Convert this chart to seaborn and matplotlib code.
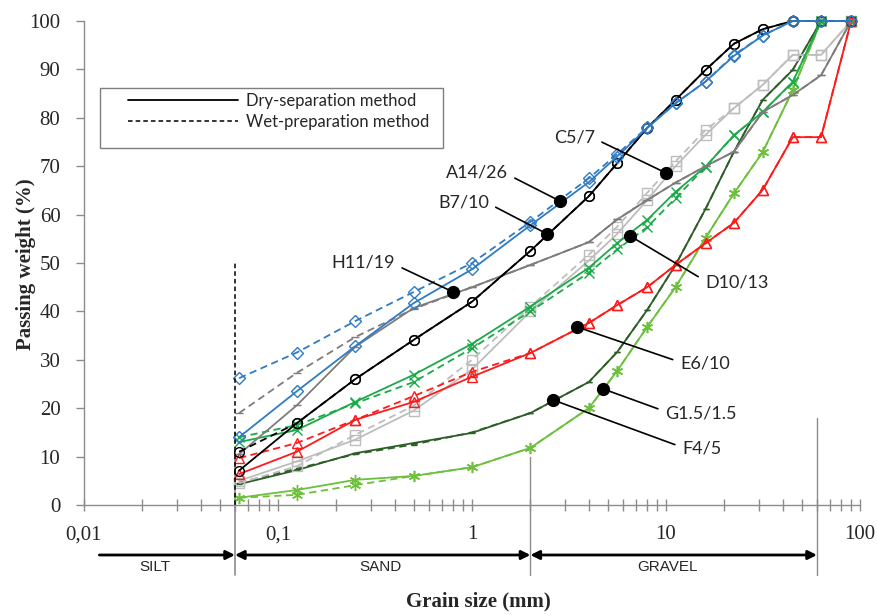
import matplotlib
matplotlib.use("Agg")
import matplotlib.pyplot as plt
from matplotlib.lines import Line2D
from matplotlib.patches import Rectangle
import seaborn as sns
import pandas as pd

# ---------------- data ----------------
sizes = [0.063, 0.125, 0.25, 0.5, 1, 2, 4, 5.6, 8, 11.2, 16, 22.4, 31.5, 45, 63, 90]

A_dry = [14.0, 23.5, 32.8, 41.7, 48.7, 57.8, 66.7, 72.0, 77.9, 83.0, 87.5, 92.8, 97.0, 100, 100, 100]
A_wet = [26.2, 31.5, 38.0, 44.0, 50.0, 58.5, 67.5, 72.5, 78.0, 83.0, 87.5, 93.0, 97.0, 100, 100, 100]
B_dry = [7.1, 16.9, 26.0, 34.1, 42.0, 52.5, 63.8, 70.6, 77.9, 83.7, 89.9, 95.3, 98.3, 100, 100, 100]
B_wet = [11.0, 16.9, 26.0, 34.1, 42.0, 52.5, 63.8, 70.6, 77.9, 83.7, 89.9, 95.3, 98.3, 100, 100, 100]
C_dry = [5.0, 9.0, 13.5, 19.5, 28.0, 40.0, 50.5, 56.0, 63.0, 70.0, 76.5, 82.0, 86.8, 93.0, 93.0, 100]
C_wet = [4.5, 8.0, 14.5, 20.5, 30.0, 41.0, 51.7, 57.5, 64.5, 71.0, 77.5, 82.0, 86.8, 93.0, 93.0, 100]
D_dry = [13.0, 15.5, 21.3, 26.9, 33.3, 41.0, 49.0, 54.1, 58.9, 64.7, 69.9, 76.4, 81.2, 87.4, 100, 100]
D_wet = [14.0, 16.5, 21.0, 25.4, 32.4, 40.0, 48.0, 52.8, 57.4, 63.4, 69.9, 76.4, 81.2, 87.4, 100, 100]
E_dry = [6.4, 11.0, 17.6, 21.3, 26.5, 31.4, 37.6, 41.3, 45.0, 49.6, 54.1, 58.3, 65.1, 76.0, 76.0, 100]
E_wet = [9.7, 12.8, 17.6, 22.5, 27.5, 31.4, 37.6, 41.3, 45.0, 49.6, 54.1, 58.3, 65.1, 76.0, 76.0, 100]
F_dry = [4.3, 7.2, 10.7, 12.8, 14.9, 19.0, 25.4, 31.6, 40.3, 49.6, 61.2, 73.0, 83.7, 89.9, 100, 100]
F_wet = [4.6, 7.5, 10.5, 12.5, 15.0, 19.0, 25.4, 31.6, 40.3, 49.6, 61.2, 73.0, 83.7, 89.9, 100, 100]
G_dry = [1.5, 3.1, 5.2, 6.0, 7.8, 11.8, 20.0, 27.7, 36.8, 45.0, 55.2, 64.4, 72.9, 85.7, 100, 100]
G_wet = [1.5, 2.1, 4.1, 6.0, 7.8, 11.8, 20.0, 27.7, 36.8, 45.0, 55.2, 64.4, 72.9, 85.7, 100, 100]
H_dry = [10.5, 20.6, 32.7, 40.7, 45.0, 49.6, 54.3, 59.0, 63.0, 66.6, 70.0, 73.0, 81.2, 84.7, 88.8, 100]
H_wet = [19.0, 27.3, 34.7, 40.5, 45.0, 49.6, 54.3, 59.0, 63.0, 66.6, 70.0, 73.0, 81.2, 84.7, 88.8, 100]

sample_names = ["A14/26", "B7/10", "C5/7", "D10/13", "E6/10", "F4/5", "G1.5/1.5", "H11/19"]
dry_values = [A_dry, B_dry, C_dry, D_dry, E_dry, F_dry, G_dry, H_dry]
wet_values = [A_wet, B_wet, C_wet, D_wet, E_wet, F_wet, G_wet, H_wet]

# label annotations: point on the curve (x, y) and text position (x, y)
ann_names = ["A14/26", "B7/10", "C5/7", "H11/19", "D10/13", "E6/10", "G1.5/1.5", "F4/5"]
ann_px = [2.84, 2.44, 10.0, 0.80, 6.52, 3.47, 4.73, 2.62]
ann_py = [62.8, 56.0, 68.6, 44.0, 55.6, 36.8, 24.0, 21.7]
ann_tx = [1.53, 1.22, 4.3, 0.401, 15.9, 11.8, 9.9, 12.1]
ann_ty = [68.6, 62.6, 76.0, 50.0, 46.0, 29.2, 19.0, 11.6]

x_ticks = [0.01, 0.1, 1, 10, 100]
x_ticklabels = ["0,01", "0,1", "1", "10", "100"]
y_ticks = [0, 10, 20, 30, 40, 50, 60, 70, 80, 90, 100]

zone_names = ["SILT", "SAND", "GRAVEL"]
zone_from = [0.012, 0.06, 2.0]
zone_to = [0.06, 2.0, 60.0]
zone_label_x = [0.0232, 0.336, 10.2]

# ---------------- style ----------------
colors = {"A14/26": "#2F7BC4", "B7/10": "#000000", "C5/7": "#BDBDBD", "D10/13": "#1AAA48",
          "E6/10": "#FF1A1A", "F4/5": "#2E5E28", "G1.5/1.5": "#6CC03C", "H11/19": "#7F7B7B"}
markers = {"A14/26": "D", "B7/10": "o", "C5/7": "s", "D10/13": "x",
           "E6/10": "^", "F4/5": "_", "G1.5/1.5": (6, 2, 0), "H11/19": "_"}
msizes = {"A14/26": 6, "B7/10": 7, "C5/7": 7, "D10/13": 7,
          "E6/10": 7, "F4/5": 5, "G1.5/1.5": 8, "H11/19": 6}

sns.set_style("white")
plt.rcParams["font.family"] = ["Liberation Serif", "DejaVu Serif"]

fig = plt.figure(figsize=(8.85, 6.16), dpi=100)
ax = fig.add_axes([84 / 885, 1 - 505 / 616, 776 / 885, 484 / 616])

rows = []
for name, dv, wv in zip(sample_names, dry_values, wet_values):
    for s, d, w in zip(sizes, dv, wv):
        rows.append({"sample": name, "method": "Dry", "size": s, "passing": d})
        rows.append({"sample": name, "method": "Wet", "size": s, "passing": w})
df = pd.DataFrame(rows)

order = ["F4/5", "G1.5/1.5", "C5/7", "E6/10", "D10/13", "H11/19", "B7/10", "A14/26"]
for name in order:
    c = colors[name]
    for method, ls in [("Wet", (0, (4, 2.5))), ("Dry", "-")]:
        sub = df[(df["sample"] == name) & (df["method"] == method)]
        sns.lineplot(data=sub, x="size", y="passing", ax=ax, sort=False, estimator=None,
                     color=c, lw=1.3, linestyle=ls, marker=markers[name],
                     markersize=msizes[name], markerfacecolor="none",
                     markeredgecolor=c, markeredgewidth=1.0, clip_on=False, legend=False)

ax.set_xscale("log")
ax.set_xlim(0.01, 100)
ax.set_ylim(0, 100)
ax.set_xticks(x_ticks)
ax.set_xticklabels(x_ticklabels)
ax.set_yticks(y_ticks)
ax.set_yticklabels([str(v) for v in y_ticks])
ax.xaxis.set_minor_locator(matplotlib.ticker.LogLocator(base=10, subs=range(2, 10), numticks=20))
ax.xaxis.set_minor_formatter(matplotlib.ticker.NullFormatter())

for sp in ["top", "right"]:
    ax.spines[sp].set_visible(False)
for sp in ["left", "bottom"]:
    ax.spines[sp].set_color("#8C8C8C")
    ax.spines[sp].set_linewidth(1.0)
ax.grid(False)

ax.tick_params(axis="x", which="both", direction="inout", length=9, width=1, color="#8C8C8C",
               labelsize=15, pad=10, bottom=True)
ax.tick_params(axis="y", which="major", direction="out", length=6, width=1, color="#8C8C8C",
               labelsize=15, pad=11, left=True)

ax.set_xlabel("Grain size (mm)", fontsize=15, fontweight="bold")
ax.set_ylabel("Passing weight (%)", fontsize=15, fontweight="bold")
ax.xaxis.set_label_coords(0.508, -0.178)
ax.yaxis.set_label_coords(-0.062, 0.498)

# boundary lines
ax.axvline(0.06, ymin=0, ymax=0.5, color="black", lw=1.1, ls=(0, (3, 2)), clip_on=False)
ax.axvline(0.06, ymin=-0.145, ymax=0.11, color="#8C8C8C", lw=1.2, clip_on=False, zorder=1)
ax.axvline(2.0, ymin=-0.145, ymax=0.10, color="#8C8C8C", lw=1.0, clip_on=False, zorder=1)
ax.axvline(60.0, ymin=-0.145, ymax=0.18, color="#8C8C8C", lw=1.0, clip_on=False, zorder=1)

# zone arrows
for i, (zn, z0, z1, zx) in enumerate(zip(zone_names, zone_from, zone_to, zone_label_x)):
    style = "-|>" if i == 0 else "<|-|>"
    ax.annotate("", xy=(z1, -0.1033), xytext=(z0, -0.1033), xycoords=("data", "axes fraction"),
                annotation_clip=False,
                arrowprops=dict(arrowstyle=style, color="black", lw=2.0, mutation_scale=13,
                                shrinkA=0, shrinkB=0))
    ax.text(zx, -0.128, zn, transform=ax.get_xaxis_transform(), ha="center", va="center",
            fontsize=11, family=["Liberation Sans Narrow", "Liberation Sans"])

# sample annotations
for name, px, py, tx, ty in zip(ann_names, ann_px, ann_py, ann_tx, ann_ty):
    left_side = tx < px
    ax.annotate(name, xy=(px, py), xytext=(tx, ty), fontsize=13, family=["Lato", "DejaVu Sans"],
                ha="right" if left_side else "left", va="center",
                arrowprops=dict(arrowstyle="-", color="black", lw=1.2,
                                relpos=(1.0, 0.4) if left_side else (0.0, 0.6),
                                shrinkA=3, shrinkB=0), zorder=6)
    ax.plot([px], [py], "o", color="black", ms=8.5, zorder=7)

# legend with box
handles = [Line2D([], [], color="black", lw=1.3, ls="-"),
           Line2D([], [], color="black", lw=1.1, ls=(0, (3, 2)))]
leg = ax.legend(handles, ["Dry-separation method", "Wet-preparation method"],
                loc="upper left", bbox_to_anchor=(0.0567, 0.852), frameon=False,
                prop={"family": ["Lato", "DejaVu Sans"], "size": 12},
                handlelength=6.6, handletextpad=0.5, labelspacing=0.3,
                borderpad=0, borderaxespad=0)
ax.add_patch(Rectangle((0.0206, 0.7376), 0.442, 0.124, transform=ax.transAxes,
                       fill=False, edgecolor="#7F7F7F", lw=1.0, zorder=5))

fig.savefig("out.png", dpi=100)
